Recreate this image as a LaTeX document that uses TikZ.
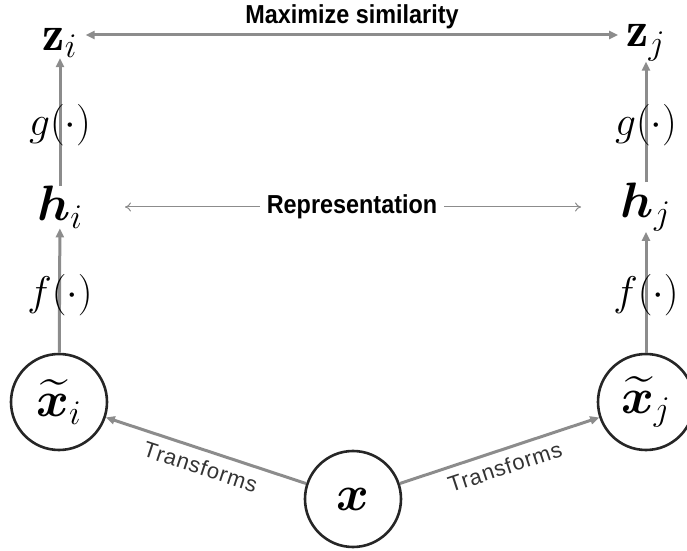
\documentclass[tikz,border=0pt]{standalone}
\usepackage{amsmath,bm}
\usepackage{fontspec}
\setsansfont{Liberation Sans}[FakeStretch=0.9]
\newfontfamily\lblfont{Liberation Sans}[LetterSpace=4]
\DeclareMathSizes{24.88}{24.88}{17.28}{14.4}
\usetikzlibrary{arrows.meta}

\begin{document}
\begin{tikzpicture}[
  x=0.5pt, y=-0.5pt,
  var/.style={font=\fontsize{24.88}{28}\selectfont, inner sep=0pt},
  fn/.style={font=\fontsize{20.74}{24}\selectfont, inner sep=0pt},
  view/.style={circle, draw=black!85, line width=1.3pt, minimum size=48pt,
               inner sep=0pt, font=\fontsize{24.88}{28}\selectfont},
  head/.style={font=\sffamily\bfseries\fontsize{13}{15}\selectfont},
  arr/.style={-{Triangle[length=4.5pt,width=4pt]}, line width=1.5pt, draw=gray!90},
  darr/.style={{Triangle[length=4.5pt,width=4pt]}-{Triangle[length=4.5pt,width=4pt]},
               line width=1.5pt, draw=gray!90},
  tarr/.style={-{To[length=3pt,width=4.5pt]}, line width=0.5pt, draw=gray!90}
]
\useasboundingbox (0,0) rectangle (687,551);

% inputs
\node[view] (x)  at (353,499) {$\bm{x}$};
\node[view] (xi) at (59,402)  {$\widetilde{\bm{x}}_i$};
\node[view] (xj) at (646,402) {$\widetilde{\bm{x}}_j$};

% representations and projections
\node[var] (hi) at (60,207)  {$\bm{h}_i$};
\node[var] (hj) at (646,207) {$\bm{h}_j$};
\node[var] (zi) at (60,43)   {$\mathbf{z}_i$};
\node[var] (zj) at (646,43)  {$\mathbf{z}_j$};

\draw[arr] (xi) -- (hi);
\draw[arr] (xj) -- (hj);
\draw[arr] (hi) -- (zi);
\draw[arr] (hj) -- (zj);

\node[fn] (fi) at (60,295)  {$f(\cdot)$};
\node[fn] (fj) at (646,295) {$f(\cdot)$};
\node[fn] (gi) at (60,125)  {$g(\cdot)$};
\node[fn] (gj) at (646,125) {$g(\cdot)$};

% augmentations
\draw[arr] (x) -- (xi) node[midway, sloped, below=0.5pt, font=\lblfont\fontsize{11}{13}\selectfont, text=black!80] {Transforms};
\draw[arr] (x) -- (xj) node[midway, sloped, below=0.5pt, font=\lblfont\fontsize{11}{13}\selectfont, text=black!80] {Transforms};

% top labels
\node[head] (max) at (352,17) {Maximize similarity};
\draw[darr, shorten <=4pt, shorten >=4pt] ([yshift=4pt]zi.east) -- ([yshift=4pt]zj.west);

\node[head] (rep) at (352,207) {Representation};
\coordinate (rl) at (125,207);
\coordinate (rr) at (581,207);
\draw[tarr] (rep.west) -- (rl);
\draw[tarr] (rep.east) -- (rr);

\end{tikzpicture}
\end{document}
